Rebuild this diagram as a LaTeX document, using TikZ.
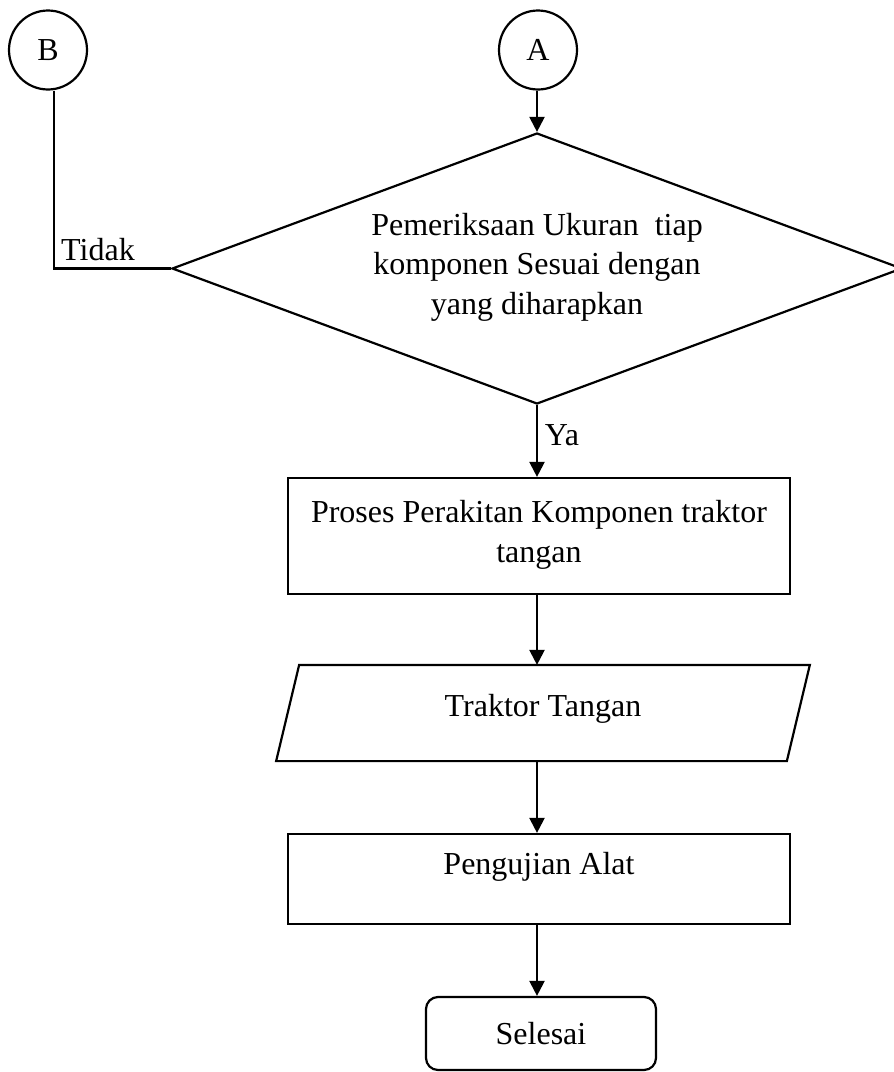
\documentclass[tikz,border=0pt]{standalone}
\usepackage{fontspec}
\setmainfont{Liberation Serif}
\usetikzlibrary{shapes.geometric,arrows.meta}
\begin{document}
\begin{tikzpicture}[x=0.5pt,y=-0.5pt,
  line width=1.1pt,
  every node/.style={font=\fontsize{16}{20}\selectfont},
  conn/.style={ellipse,draw,minimum width=39pt,minimum height=39.5pt,inner sep=0pt},
  decision/.style={diamond,draw,aspect=2.7,minimum width=365pt,minimum height=135.5pt,inner sep=0pt,align=center,
    font=\fontsize{16}{19.8}\selectfont},
  procbox/.style={rectangle,draw,minimum width=251pt,align=center},
  endbox/.style={rectangle,draw,rounded corners=6pt,minimum width=115pt,minimum height=36.5pt},
  flow/.style={-{Triangle[length=7.5pt,width=7.5pt]}},
  lbl/.style={inner sep=1pt}
]
\useasboundingbox (0,0) rectangle (894,1072);

% connectors at the top
\node[conn] (B) at (48,50) {B};
\node[conn] (A) at (538,50) {A};

% decision
\node[decision,text depth=5pt] (D) at (537,268.5) {Pemeriksaan Ukuran\ \ tiap\\komponen Sesuai dengan\\yang diharapkan};

% process steps
\node[procbox,minimum height=58pt,text depth=4.5pt] (P) at (539,536) {Proses Perakitan Komponen traktor\\tangan};
\node[minimum width=254.25pt,minimum height=47pt,text depth=8pt] (T) at (543,713) {Traktor Tangan};
\draw ([xshift=5.75pt]T.north west) -- ([xshift=5.75pt]T.north east)
   -- ([xshift=-5.75pt]T.south east) -- ([xshift=-5.75pt]T.south west) -- cycle;
\node[procbox,minimum height=45pt,text depth=16pt] (U) at (539,879) {Pengujian Alat};
\node[endbox] (S) at (541,1033.5) {Selesai};

% flow lines
\draw[flow] (A.south -| D.north) -- (D.north);
\draw[flow] (D.south) -- (D.south |- P.north);
\draw[flow] (D.south |- P.south) -- (D.south |- T.north);
\draw[flow] (D.south |- T.south) -- (D.south |- U.north);
\draw[flow] (D.south |- U.south) -- (D.south |- S.north);
\draw ([xshift=3pt]B.south) |- (D.west);

% branch labels
\node[lbl] at (98,250) {Tidak};
\node[lbl] at (562,435) {Ya};
\end{tikzpicture}
\end{document}
